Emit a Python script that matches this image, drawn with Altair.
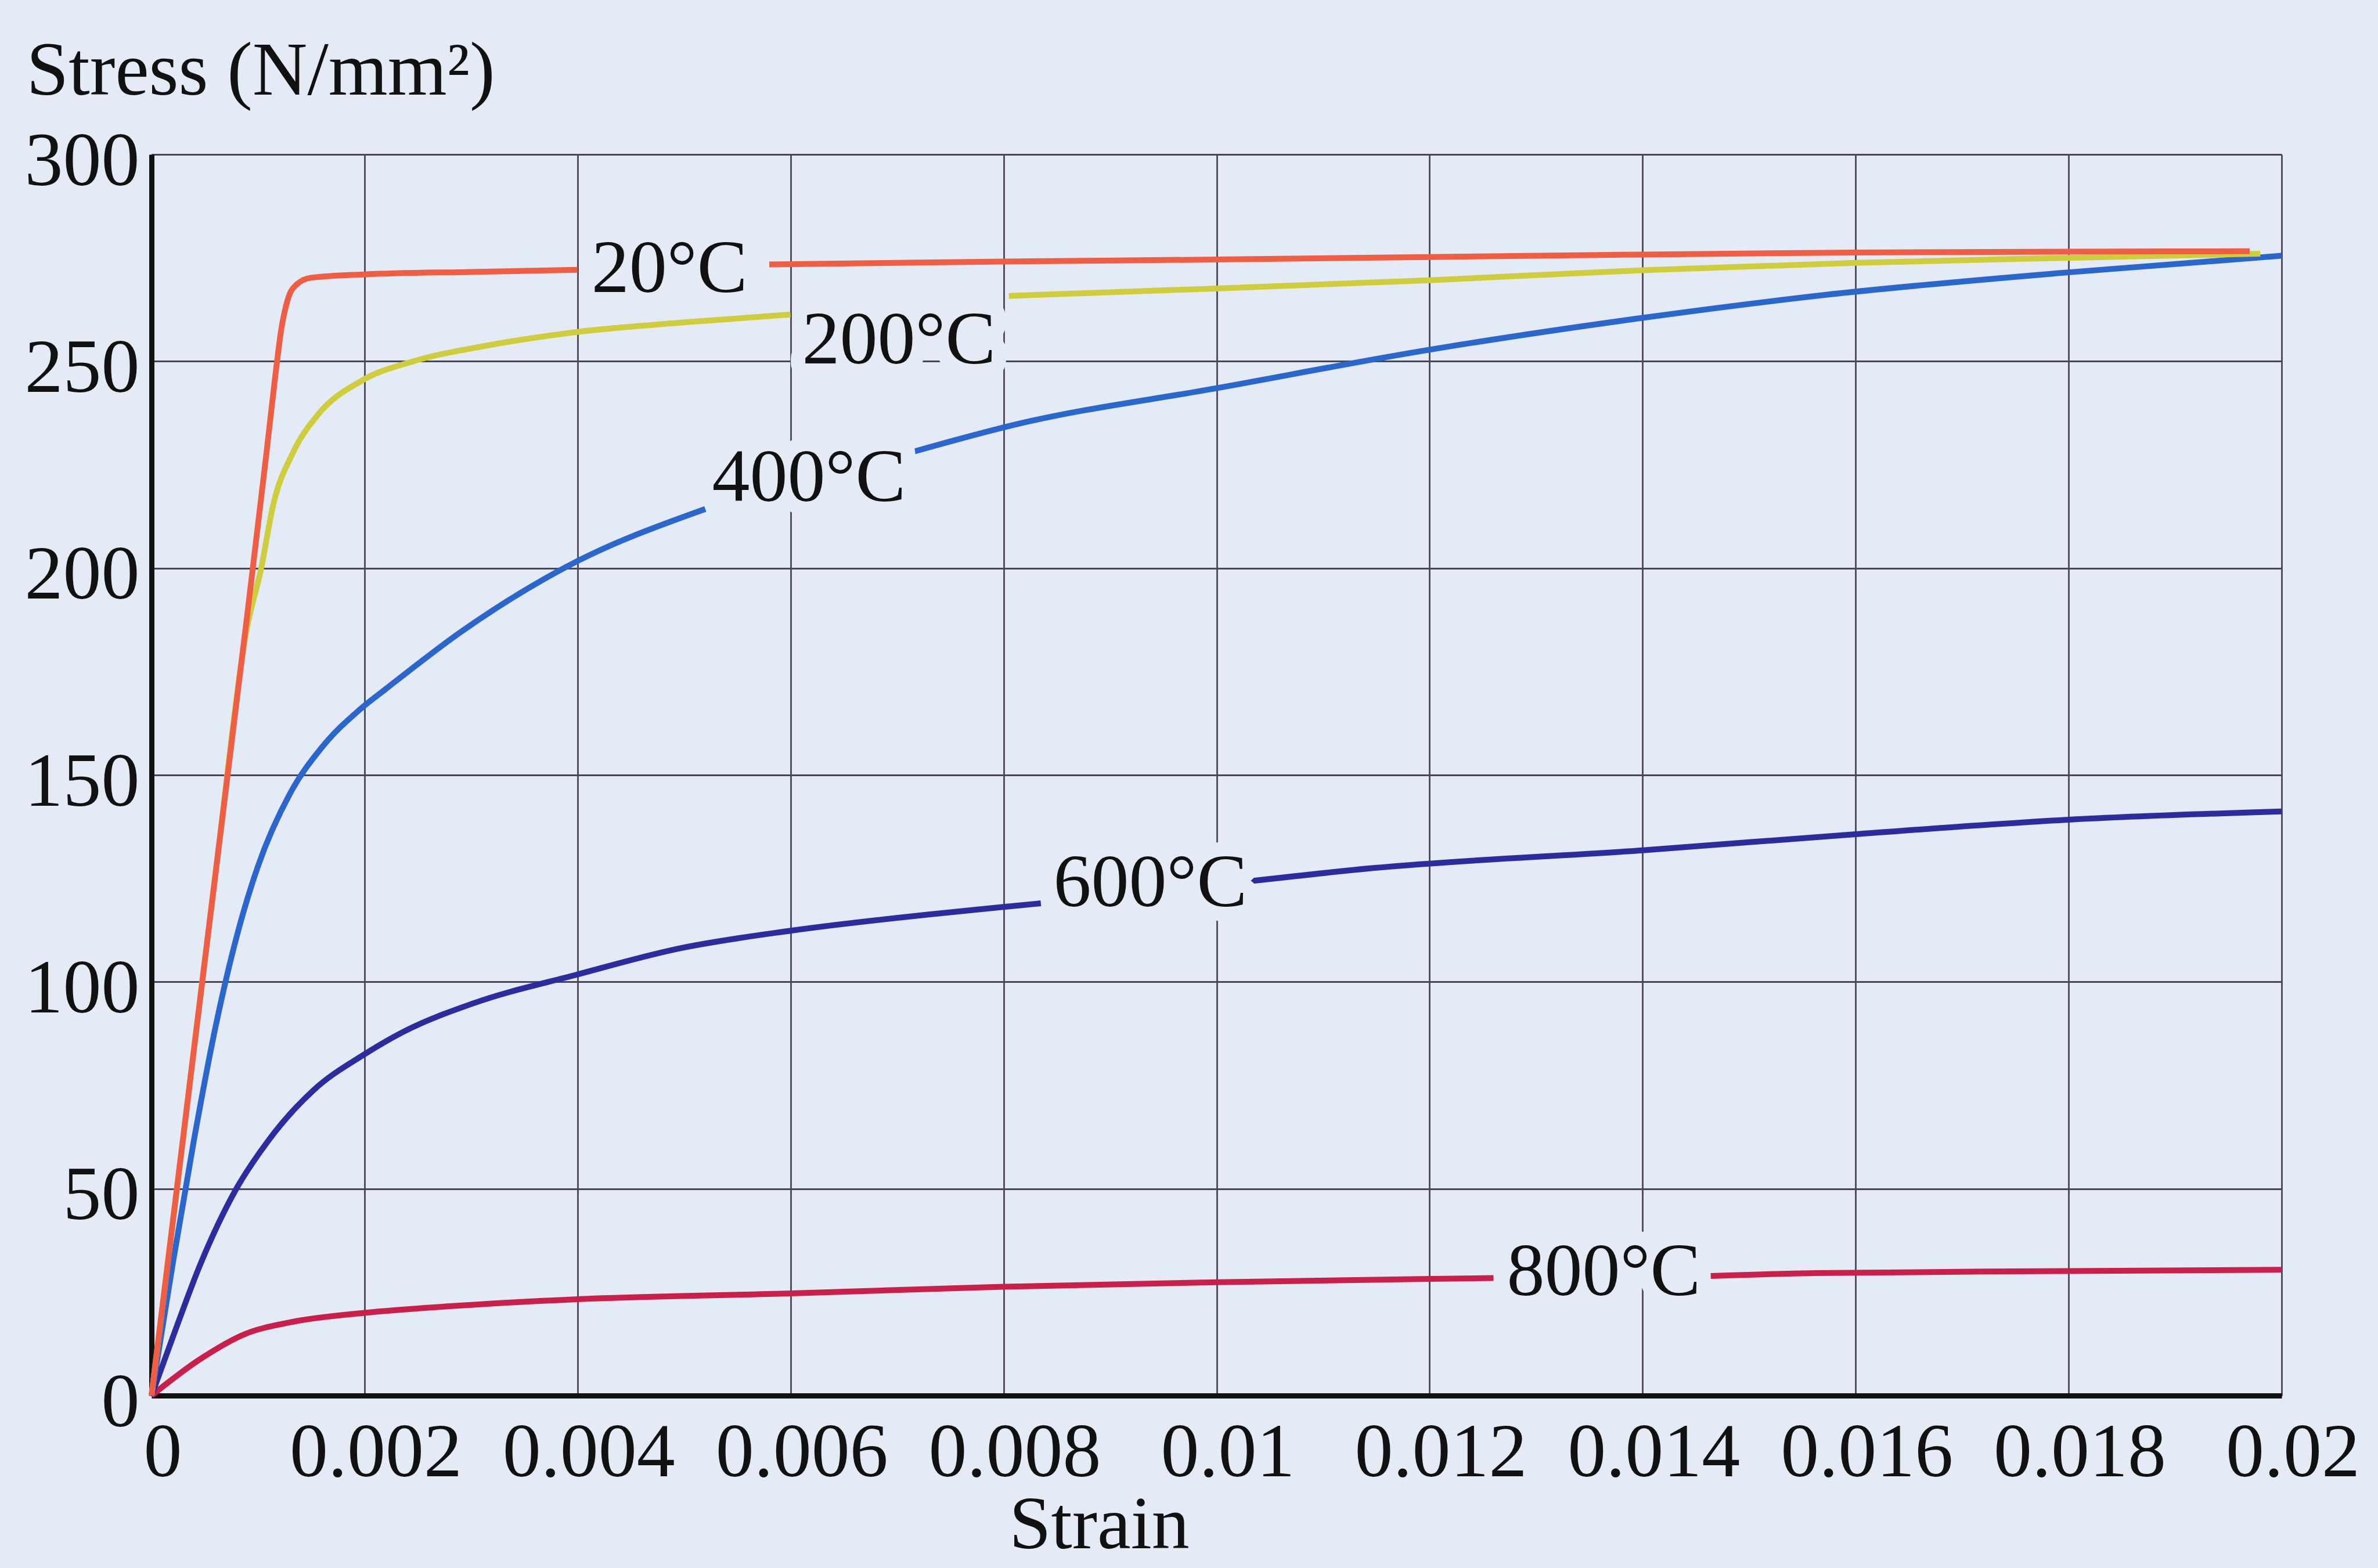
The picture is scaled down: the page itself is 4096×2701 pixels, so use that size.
import altair as alt
import pandas as pd

# ---------------- data ----------------
x_ticks = [0, 0.002, 0.004, 0.006, 0.008, 0.01, 0.012, 0.014, 0.016, 0.018, 0.02]
y_ticks = [0, 50, 100, 150, 200, 250, 300]

series_names = ["800°C", "600°C", "400°C", "200°C", "20°C"]
series_colors = ["#c8204a", "#2b2c9e", "#2a66cc", "#cfcd3e", "#ee5e44"]

# 20 °C (line broken by its label)
strain_20a = [0, 0.0003, 0.0006, 0.0009, 0.00108, 0.00116, 0.00122, 0.00128, 0.00136, 0.0015, 0.002, 0.003, 0.0040]
stress_20a = [0, 63, 126, 189, 228, 246, 258, 265, 268.5, 270.2, 271, 271.6, 272.1]
strain_20b = [0.0058, 0.007, 0.008, 0.01, 0.012, 0.014, 0.016, 0.018, 0.0197]
stress_20b = [273.4, 273.8, 274.1, 274.6, 275.2, 275.8, 276.3, 276.5, 276.6]

# 200 °C
strain_200a = [0, 0.0003, 0.0006, 0.0009, 0.00103, 0.00114, 0.00133, 0.00156, 0.00198, 0.00246, 0.00315, 0.004, 0.005, 0.006]
stress_200a = [0, 63, 126, 186, 200, 215, 228, 237, 245.4, 250, 253.8, 257.1, 259.4, 261.3]
strain_200b = [0.00805, 0.01, 0.012, 0.014, 0.016, 0.018, 0.0198]
stress_200b = [265.8, 267.6, 269.6, 272.0, 273.8, 275.0, 276.0]

# 400 °C
strain_400a = [0, 0.0002, 0.0004, 0.0006, 0.0008, 0.001, 0.0013, 0.0016, 0.00195, 0.0022, 0.0029, 0.0039, 0.0052]
stress_400a = [0, 32, 62, 89, 111, 128, 145.5, 156.7, 165.7, 170.8, 184.5, 200.4, 214.3]
strain_400b = [0.00716, 0.00816, 0.01, 0.012, 0.014, 0.0157, 0.018, 0.02]
stress_400b = [228.2, 235.0, 243.5, 252.8, 260.5, 266.0, 271.5, 275.5]

# 600 °C
strain_600a = [0, 0.000235, 0.00045, 0.00079, 0.00109, 0.00152, 0.002, 0.00237, 0.00302, 0.004, 0.00494, 0.00601, 0.0073, 0.008, 0.00835]
stress_600a = [0, 16.6, 31.2, 49.7, 61.4, 73.8, 82.5, 88.0, 94.8, 101.8, 108, 112.4, 116.3, 118.1, 119.0]
strain_600b = [0.0103, 0.01147, 0.014, 0.016, 0.018, 0.02]
stress_600b = [124.3, 127.5, 131.8, 135.7, 139.2, 141.2]

# 800 °C
strain_800a = [0, 0.00045, 0.00088, 0.0013, 0.002, 0.0028, 0.004, 0.006, 0.008, 0.01, 0.012, 0.0126]
stress_800a = [0, 8.7, 14.9, 17.7, 20, 21.6, 23.3, 24.7, 26.3, 27.4, 28.2, 28.4]
strain_800b = [0.01464, 0.01561, 0.018, 0.02]
stress_800b = [28.9, 29.6, 30.1, 30.4]

# curve labels (centre of the label text)
label_text = ["20°C", "200°C", "400°C", "600°C", "800°C"]
label_strain = [0.004863, 0.007017, 0.006173, 0.009378, 0.013635]
label_stress = [272.9, 255.7, 222.4, 124.5, 30.5]

# ---------------- build tables ----------------
curves = {
    "20°C": [(strain_20a, stress_20a), (strain_20b, stress_20b)],
    "200°C": [(strain_200a, stress_200a), (strain_200b, stress_200b)],
    "400°C": [(strain_400a, stress_400a), (strain_400b, stress_400b)],
    "600°C": [(strain_600a, stress_600a), (strain_600b, stress_600b)],
    "800°C": [(strain_800a, stress_800a), (strain_800b, stress_800b)],
}
rows = []
for name, segs in curves.items():
    for si, (xs, ys) in enumerate(segs):
        for i, (xv, yv) in enumerate(zip(xs, ys)):
            rows.append({"series": name, "segment": f"{name}-{si}", "strain": xv, "stress": yv, "idx": i})
df = pd.DataFrame(rows)
labels_df = pd.DataFrame({"strain": label_strain, "stress": label_stress, "label": label_text})

BG = "#e5ebf6"
FONT = "Liberation Serif"
INK = "#111111"

x_enc = alt.X(
    "strain:Q",
    scale=alt.Scale(domain=[0, 0.02], nice=False, zero=False),
    axis=alt.Axis(
        values=x_ticks, format="~g", title="Strain", grid=True,
        ticks=False, tickSize=0, labelPadding=34, labelOffset=19, labelFlush=False,
        labelLimit=0, labelOverlap=False,
        labelFont=FONT, labelFontSize=132, labelColor=INK,
        titleFont=FONT, titleFontSize=130, titleFontWeight="normal", titleColor=INK,
        titleX=1632, titleY=262, titleBaseline="alphabetic", titleAlign="center",
        domain=True, domainWidth=9, domainColor=INK,
        gridColor="#4a4658", gridWidth=2.8,
    ),
)
y_enc = alt.Y(
    "stress:Q",
    scale=alt.Scale(domain=[0, 300], nice=False, zero=True),
    axis=alt.Axis(
        values=y_ticks, title="Stress (N/mm²)", grid=True,
        ticks=False, tickSize=0, labelPadding=21, labelOffset=12, labelFlush=False,
        labelLimit=0, labelOverlap=False,
        labelFont=FONT, labelFontSize=132, labelColor=INK,
        titleFont=FONT, titleFontSize=131, titleFontWeight="normal", titleColor=INK,
        titleAngle=0, titleX=-216, titleY=-104, titleAlign="left", titleBaseline="alphabetic",
        titleLimit=0,
        domain=True, domainWidth=9, domainColor=INK,
        gridColor="#4a4658", gridWidth=2.8,
    ),
)
color_enc = alt.Color("series:N", scale=alt.Scale(domain=series_names, range=series_colors), legend=None)

layers = []
for name in series_names:
    layers.append(
        alt.Chart(df)
        .transform_filter(alt.datum.series == name)
        .mark_line(strokeWidth=10, strokeCap="butt", strokeJoin="round", interpolate="monotone")
        .encode(x=x_enc, y=y_enc, color=color_enc, detail="segment:N", order="idx:Q")
    )

halo = alt.Chart(labels_df).mark_text(
    font=FONT, fontSize=130, align="center", baseline="middle", dy=5,
    fill=BG, stroke=BG, strokeWidth=50, strokeJoin="round",
).encode(x=x_enc, y=y_enc, text="label:N")

text = alt.Chart(labels_df).mark_text(
    font=FONT, fontSize=130, align="center", baseline="middle", dy=5, color=INK,
).encode(x=x_enc, y=y_enc, text="label:N")

chart = (
    alt.layer(*layers, halo, text)
    .properties(
        width=3669, height=2138,
        padding={"left": 261, "top": 266, "right": 166, "bottom": 297},
        autosize=alt.AutoSizeParams(type="none"),
        background=BG,
    )
    .configure_view(stroke="transparent", fill=BG)
)

chart.save("out.html", embed_options={"renderer": "svg", "actions": False})
